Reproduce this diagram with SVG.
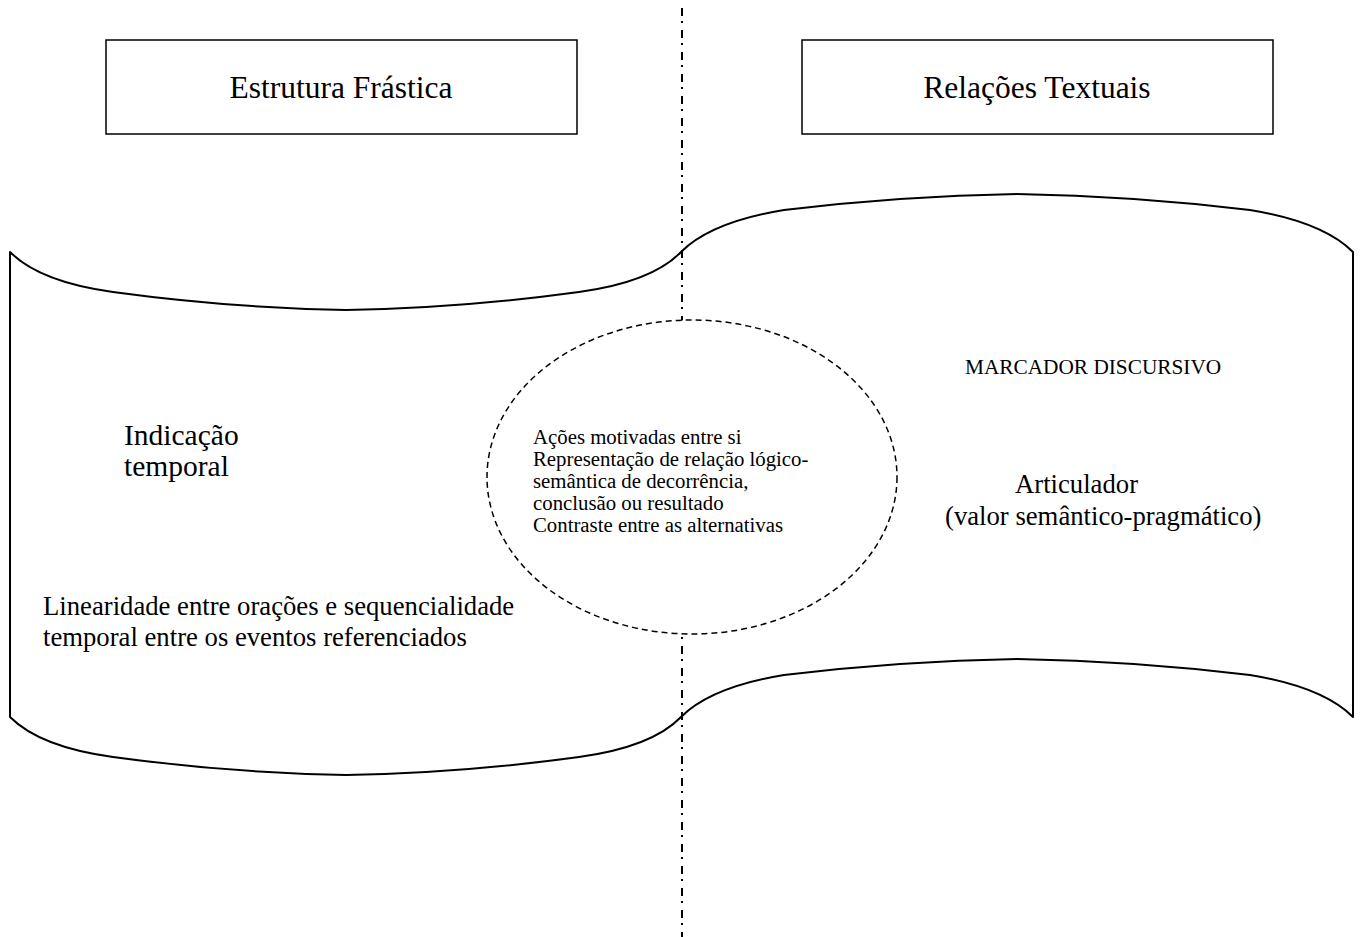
<svg xmlns="http://www.w3.org/2000/svg" width="1361" height="937" viewBox="0 0 1361 937">
  <style>
    .box { fill: #ffffff; stroke: #000000; stroke-width: 1.5; }
    .tape { fill: none; stroke: #000000; stroke-width: 2; stroke-linejoin: round; }
    .axis { stroke: #000000; stroke-width: 2; stroke-dasharray: 8 5 2 7; }
    .bubble { fill: #ffffff; stroke: #000000; stroke-width: 1.5; stroke-dasharray: 6 4; }
    text { font-family: "Liberation Serif", "Times New Roman", serif; fill: #000000; }
    .title { font-size: 31.5px; text-anchor: middle; }
    .big { font-size: 26.7px; }
    .mid { font-size: 29.5px; }
    .small { font-size: 21.3px; }
    .inner { font-size: 20.8px; }
  </style>

  <!-- dash-dot divider between the two halves -->
  <g id="connectors">
    <line class="axis" x1="682" y1="8" x2="682" y2="937"/>
  </g>

  <!-- punched-tape band spanning both halves -->
  <g id="band">
    <path class="tape" d="M10,252 Q40,282 113,292 Q230,308 346,310 Q462,308 579,292 Q652,282 681,252
      Q711,222 784,210 Q900,196 1017,194 Q1134,196 1250,210 Q1323,222 1353,252
      L1353,717
      Q1323,687 1250,675 Q1134,661 1017,659 Q900,661 784,675 Q711,687 681,717
      Q652,747 579,757 Q462,773 346,775 Q230,773 113,757 Q40,747 10,717 Z"/>
  </g>

  <g id="box-estrutura">
    <rect class="box" x="106" y="40" width="471" height="94"/>
    <text class="title" x="341" y="98">Estrutura Frástica</text>
  </g>

  <g id="box-relacoes">
    <rect class="box" x="802" y="40" width="471" height="94"/>
    <text class="title" x="1037" y="98">Relações Textuais</text>
  </g>

  <g id="indicacao">
    <text class="mid" x="124" y="445">Indicação</text>
    <text class="mid" x="124" y="476">temporal</text>
  </g>

  <g id="linearidade">
    <text class="big" x="43" y="615">Linearidade entre orações e sequencialidade</text>
    <text class="big" x="43" y="646">temporal entre os eventos referenciados</text>
  </g>

  <g id="marcador">
    <text class="small" x="965" y="374">MARCADOR DISCURSIVO</text>
  </g>

  <g id="articulador">
    <text class="big" x="1015" y="493">Articulador</text>
    <text class="big" x="945" y="525">(valor semântico-pragmático)</text>
  </g>

  <g id="intersecao">
    <ellipse class="bubble" cx="692" cy="477" rx="205" ry="157"/>
    <text class="inner" x="533" y="444">Ações motivadas entre si</text>
    <text class="inner" x="533" y="466">Representação de relação lógico-</text>
    <text class="inner" x="533" y="488">semântica de decorrência,</text>
    <text class="inner" x="533" y="510">conclusão ou resultado</text>
    <text class="inner" x="533" y="532">Contraste entre as alternativas</text>
  </g>
</svg>
